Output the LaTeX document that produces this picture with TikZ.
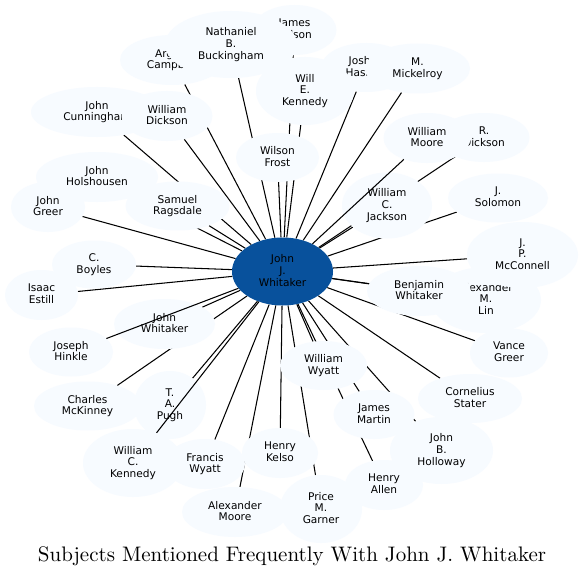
\documentclass[tikz,border=0pt]{standalone}
\usepackage{fontspec}
\newfontfamily\dvs{DejaVu Sans}
\newfontfamily\titlefont{lmroman10-regular}[Extension=.otf]
\usetikzlibrary{shapes.geometric,backgrounds}
\definecolor{nodefill}{HTML}{F7FBFF}
\definecolor{hubfill}{HTML}{08519C}
\newcommand{\sv}{\vphantom{hy}}
\tikzset{
  subj/.style={ellipse, fill=nodefill, draw=none, inner sep=0pt, align=center,
    font=\dvs\fontsize{10.6}{11.7}\selectfont,
    execute at begin node=\sv, execute at end node=\sv},
  hubnode/.style={subj, fill=hubfill, text=black},
  edge/.style={draw=black, line width=1.05pt},
  titletext/.style={font=\titlefont\fontsize{21}{24}\selectfont, anchor=base, inner sep=0pt}
}
\begin{document}
\begin{tikzpicture}[x=1pt,y=-1pt]
\useasboundingbox (0,0) rectangle (584,578);
% nodes in drawing order
\node[hubnode, minimum width=101pt, minimum height=68pt] (hub) at (282.5,271.5) {John\\J.\\Whitaker};
\node[subj, minimum width=84pt, minimum height=50pt] (jwilson) at (294.5,30) {James\\Wilson};
\node[subj, minimum width=104pt, minimum height=50pt] (argyle) at (172,60) {Argyle\\Campbell};
\node[subj, minimum width=132pt, minimum height=67pt] (nbb) at (231,44.5) {Nathaniel\\B.\\Buckingham};
\node[subj, minimum width=90pt, minimum height=49pt] (josh) at (366.2,67.5) {Joshua\\Haskins};
\node[subj, minimum width=105pt, minimum height=50pt] (mick) at (417.5,68.5) {M.\\Mickelroy};
\node[subj, minimum width=98pt, minimum height=68pt] (wek) at (305,91) {Will\\E.\\Kennedy};
\node[subj, minimum width=132pt, minimum height=50pt] (cunn) at (97,112) {John\\Cunningham};
\node[subj, minimum width=91pt, minimum height=50pt] (wdick) at (167,116) {William\\Dickson};
\node[subj, minimum width=83pt, minimum height=49pt] (frost) at (277.5,157.5) {Wilson\\Frost};
\node[subj, minimum width=91pt, minimum height=49pt] (rdick) at (484,137.5) {R.\\Dickson};
\node[subj, minimum width=87pt, minimum height=50pt] (wmoore) at (427,138) {William\\Moore};
\node[subj, minimum width=122pt, minimum height=50pt] (holsh) at (97,177) {John\\Holshousen};
\node[subj, minimum width=74pt, minimum height=50pt] (greer) at (48,207) {John\\Greer};
\node[subj, minimum width=104pt, minimum height=49pt] (rags) at (177.5,206) {Samuel\\Ragsdale};
\node[subj, minimum width=90pt, minimum height=66pt] (wcj) at (387,205.5) {William\\C.\\Jackson};
\node[subj, minimum width=100pt, minimum height=49pt] (solomon) at (498,198) {J.\\Solomon};
\node[subj, minimum width=110pt, minimum height=66pt] (alin) at (486,300) {Alexander\\M.\\Lin};
\node[subj, minimum width=111pt, minimum height=66pt] (jpm) at (522.5,255) {J.\\P.\\McConnell};
\node[subj, minimum width=104pt, minimum height=50pt] (bwhit) at (419,291) {Benjamin\\Whitaker};
\node[subj, minimum width=84pt, minimum height=48pt] (boyles) at (94,264.5) {C.\\Boyles};
\node[subj, minimum width=73pt, minimum height=50pt] (estill) at (41.5,295) {Isaac\\Estill};
\node[subj, minimum width=101pt, minimum height=50pt] (jwhit) at (164.5,324) {John\\Whitaker};
\node[subj, minimum width=84pt, minimum height=49pt] (hinkle) at (71,352) {Joseph\\Hinkle};
\node[subj, minimum width=78pt, minimum height=49pt] (vance) at (509,353) {Vance\\Greer};
\node[subj, minimum width=87pt, minimum height=49pt] (wwyatt) at (323.5,365.5) {William\\Wyatt};
\node[subj, minimum width=107pt, minimum height=49pt] (mckin) at (87.5,406) {Charles\\McKinney};
\node[subj, minimum width=72pt, minimum height=68pt] (pugh) at (170,405) {T.\\A.\\Pugh};
\node[subj, minimum width=104pt, minimum height=49pt] (stater) at (470,398.5) {Cornelius\\Stater};
\node[subj, minimum width=81pt, minimum height=49pt] (martin) at (374,414.5) {James\\Martin};
\node[subj, minimum width=103pt, minimum height=67pt] (holloway) at (441.5,450.5) {John\\B.\\Holloway};
\node[subj, minimum width=100pt, minimum height=68pt] (wck) at (133,463) {William\\C.\\Kennedy};
\node[subj, minimum width=80pt, minimum height=50pt] (fwyatt) at (205,464) {Francis\\Wyatt};
\node[subj, minimum width=76pt, minimum height=50pt] (kelso) at (280,453) {Henry\\Kelso};
\node[subj, minimum width=78pt, minimum height=50pt] (allen) at (384,485) {Henry\\Allen};
\node[subj, minimum width=106pt, minimum height=50pt] (amoore) at (235,512) {Alexander\\Moore};
\node[subj, minimum width=82pt, minimum height=68pt] (garner) at (321,509) {Price\\M.\\Garner};
% white page and edges hidden under nodes
\begin{pgfonlayer}{background}
\fill[white] (0,0) rectangle (584,578);
\foreach \n in {jwilson,argyle,nbb,josh,mick,wek,cunn,wdick,frost,rdick,holsh,greer,rags,wcj,solomon,alin,jpm,bwhit,boyles,estill,jwhit,vance,wwyatt,mckin,pugh,stater,martin,holloway,fwyatt,kelso,allen,amoore,garner}
  \draw[edge] (hub) -- (\n);
\end{pgfonlayer}
% edges drawn over nodes
\draw[edge] (hub) -- (hinkle);
\draw[edge] (hub) -- (wck);
\draw[edge] (hub) -- (wmoore);
% title
\node[titletext] (title) at (292,561) {Subjects Mentioned Frequently With John J. Whitaker};
\end{tikzpicture}
\end{document}
